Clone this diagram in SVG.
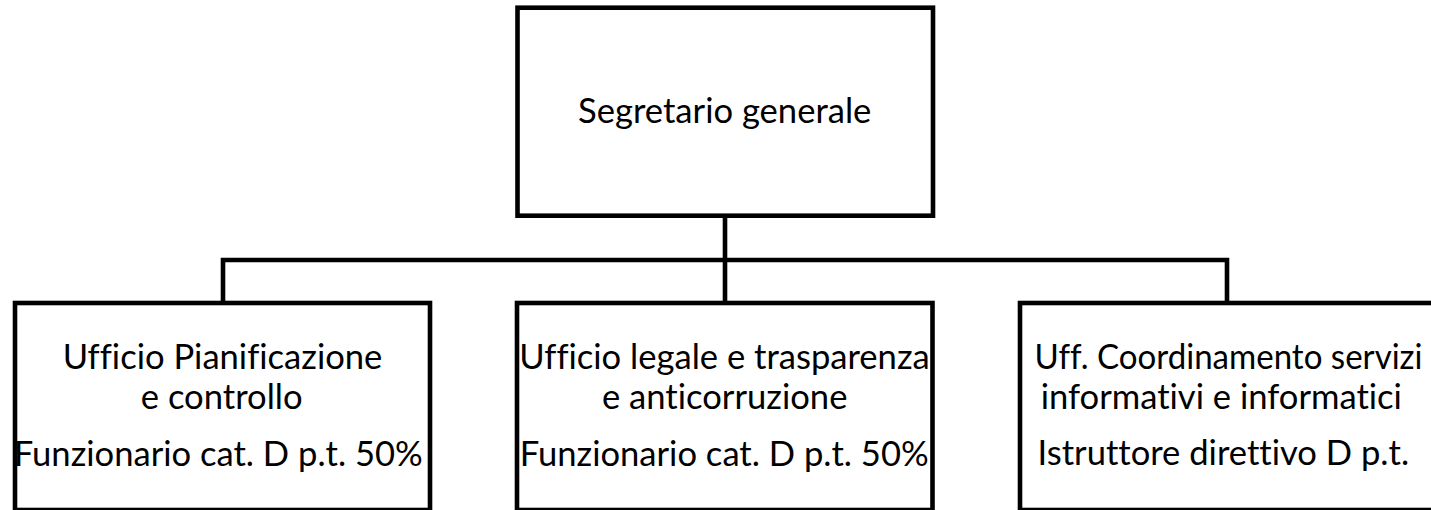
<svg xmlns="http://www.w3.org/2000/svg" width="1431" height="510" viewBox="0 0 1431 510">
<style>
.box{fill:#fff;stroke:#000;stroke-width:4.6}
.conn{fill:none;stroke:#000;stroke-width:4.6}
text{font-family:Lato,"Liberation Sans",sans-serif;font-size:34.6px;fill:#000;text-anchor:middle;font-variant-ligatures:none;font-feature-settings:"liga" 0,"dlig" 0}
</style>
<rect width="1431" height="510" fill="#fff"/>
<g id="connectors">
<path class="conn" d="M725,215.7 V303"/>
<path class="conn" d="M223,303 V260 H1227 V303"/>
</g>
<g id="node-segretario">
<rect class="box" x="517.5" y="7.7" width="415.5" height="208"/>
<text x="724.7" y="123.3">Segretario generale</text>
</g>
<g id="node-pianificazione">
<rect class="box" x="15" y="303" width="415" height="207"/>
<text x="222.5" y="369.3">Ufficio Pianificazione</text>
<text x="221.7" y="409">e controllo</text>
<text x="218.3" y="466">Funzionario cat. D p.t. 50%</text>
</g>
<g id="node-legale">
<rect class="box" x="517" y="303" width="415.5" height="207"/>
<text x="724.5" y="369.3">Ufficio legale e trasparenza</text>
<text x="724.7" y="409">e anticorruzione</text>
<text x="724.2" y="466">Funzionario cat. D p.t. 50%</text>
</g>
<g id="node-informatici">
<rect class="box" x="1020" y="303" width="415" height="207"/>
<text x="1228.5" y="368.5" textLength="388" lengthAdjust="spacingAndGlyphs">Uff. Coordinamento servizi</text>
<text x="1221.3" y="409">informativi e informatici</text>
<text x="1223.3" y="465">Istruttore direttivo D p.t.</text>
</g>
</svg>
